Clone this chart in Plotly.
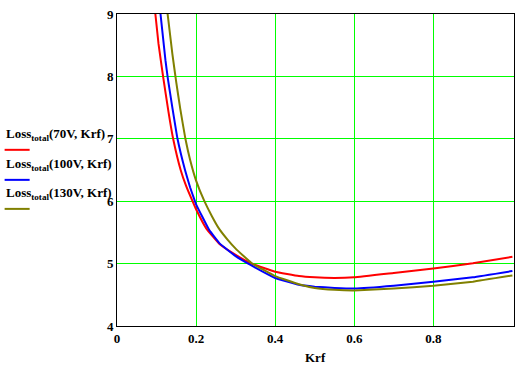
import plotly.graph_objects as go

# ---- data ----
krf_70 = [0.097, 0.105, 0.1165, 0.13, 0.142, 0.161, 0.175, 0.191, 0.2, 0.226, 0.26, 0.3, 0.34, 0.4, 0.46, 0.5, 0.55, 0.6, 0.7, 0.8, 0.9, 1.0]
loss_70 = [9.0, 8.52, 8.0, 7.44, 7.0, 6.5, 6.24, 6.0, 5.87, 5.56, 5.31, 5.14, 5.0, 4.87, 4.80, 4.78, 4.77, 4.78, 4.85, 4.92, 5.005, 5.11]

krf_100 = [0.110, 0.1225, 0.129, 0.14, 0.153, 0.172, 0.185, 0.197, 0.2, 0.233, 0.26, 0.3, 0.34, 0.4, 0.46, 0.5, 0.55, 0.6, 0.7, 0.8, 0.9, 1.0]
loss_100 = [9.0, 8.26, 7.95, 7.5, 7.0, 6.5, 6.22, 6.0, 5.95, 5.54, 5.32, 5.12, 4.97, 4.77, 4.66, 4.63, 4.61, 4.60, 4.645, 4.71, 4.78, 4.88]

krf_130 = [0.128, 0.140, 0.150, 0.16, 0.173, 0.185, 0.2, 0.221, 0.24, 0.258, 0.28, 0.3, 0.34, 0.4, 0.46, 0.5, 0.55, 0.6, 0.7, 0.8, 0.9, 1.0]
loss_130 = [9.0, 8.36, 7.9, 7.48, 7.0, 6.66, 6.33, 6.0, 5.76, 5.56, 5.38, 5.24, 5.01, 4.80, 4.67, 4.61, 4.58, 4.57, 4.60, 4.645, 4.71, 4.81]

series_names = ["(70V, Krf)", "(100V, Krf)", "(130V, Krf)"]
series_colors = ["#ff0000", "#0000ff", "#808000"]

x_ticks = [0, 0.2, 0.4, 0.6, 0.8]
x_tick_labels = ["0", "0.2", "0.4", "0.6", "0.8"]
y_ticks = [4, 5, 6, 7, 8, 9]

FONT = dict(family="Liberation Serif, Times New Roman, serif", size=13, color="black", weight="bold")

fig = go.Figure()
for xs, ys, col in zip([krf_70, krf_100, krf_130], [loss_70, loss_100, loss_130], series_colors):
    fig.add_trace(go.Scatter(x=xs, y=ys, mode="lines",
                             line=dict(color=col, width=2, shape="spline", smoothing=0.3),
                             showlegend=False, hoverinfo="skip"))

fig.update_layout(
    width=531, height=365,
    margin=dict(l=117, r=17, t=14, b=39, pad=0, autoexpand=False),
    paper_bgcolor="white", plot_bgcolor="white",
    font=FONT,
    showlegend=False,
)
fig.update_xaxes(range=[0, 1.004], tickvals=x_ticks, ticktext=x_tick_labels,
                 showgrid=True, gridcolor="#00ff00", gridwidth=1,
                 showline=True, linecolor="black", linewidth=1, mirror=True,
                 zeroline=False, ticks="", tickfont=FONT, automargin=False)
fig.update_yaxes(range=[4, 9], tickvals=y_ticks,
                 showgrid=True, gridcolor="#00ff00", gridwidth=1,
                 showline=True, linecolor="black", linewidth=1, mirror=True,
                 zeroline=False, ticks="", tickfont=FONT, automargin=False)

# axis title
fig.add_annotation(text="Krf", xref="paper", yref="paper", x=0.5, y=-0.0995,
                   xanchor="center", yanchor="middle", showarrow=False, font=FONT)

# legend on the left (text above a colored sample line)
L, W, H = 117.3, 396.7, 311.7
def px_x(px):
    return (px - L) / W
def px_y(py):
    return (326 - py) / H

text_y = [135, 165, 194]
line_y = [150, 180, 209]
for name, col, ty, ly in zip(series_names, series_colors, text_y, line_y):
    fig.add_annotation(text="Loss<sub>total</sub>" + name, xref="paper", yref="paper",
                       x=px_x(4), y=px_y(ty), xanchor="left", yanchor="middle",
                       showarrow=False, font=FONT)
    fig.add_shape(type="line", xref="paper", yref="paper",
                  x0=px_x(5), x1=px_x(30), y0=px_y(ly), y1=px_y(ly),
                  line=dict(color=col, width=2))

fig.write_html("out.html", config={"displayModeBar": False},
               post_script="document.body.style.margin='0';document.body.style.overflow='hidden';")
